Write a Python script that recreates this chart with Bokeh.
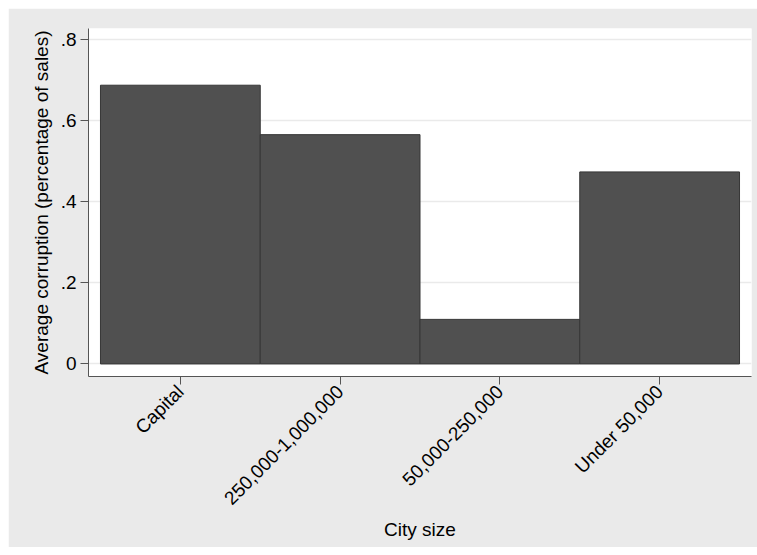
import math
from bokeh.plotting import figure
from bokeh.models import FactorRange, Range1d, FixedTicker, ColumnDataSource
from bokeh.embed import file_html
from bokeh.resources import INLINE

categories = ["Capital", "250,000-1,000,000", "50,000-250,000", "Under 50,000"]
corruption = [0.688, 0.566, 0.110, 0.474]
y_ticks = [0, 0.2, 0.4, 0.6, 0.8]
y_tick_labels = ["0", ".2", ".4", ".6", ".8"]

FONT = "Liberation Sans"
FS = "19px"

p = figure(width=749, height=539, output_backend="svg", toolbar_location=None,
           x_range=FactorRange(factors=categories, range_padding=0.075,
                               range_padding_units="absolute"),
           y_range=Range1d(-0.031, 0.828),
           min_border_left=80, min_border_right=6, min_border_top=20,
           min_border_bottom=171, margin=(8, 0, 8, 8),
           background_fill_color="white", border_fill_color="#EAEAEA")
p.outline_line_color = None

src = ColumnDataSource(dict(cat=categories, val=corruption))
p.vbar(x="cat", top="val", bottom=0, width=1.0, source=src,
       fill_color="#505050", line_color="#363636", line_width=1)

p.xgrid.visible = False
p.ygrid.grid_line_color = "#EAEAEA"
p.ygrid.grid_line_width = 1.5
p.ygrid.level = "underlay"

p.yaxis.ticker = FixedTicker(ticks=y_ticks)
p.yaxis.major_label_overrides = {t: l for t, l in zip(y_ticks, y_tick_labels)}
p.yaxis.axis_label = "Average corruption (percentage of sales)"
p.xaxis.axis_label = "City size"
p.xaxis.major_label_orientation = math.pi / 4

for ax in (p.xaxis[0], p.yaxis[0]):
    ax.axis_line_color = "#555555"
    ax.axis_line_width = 1
    ax.major_tick_line_color = "#555555"
    ax.major_tick_out = 8
    ax.major_tick_in = 0
    ax.minor_tick_line_color = None
    ax.major_label_text_font = FONT
    ax.major_label_text_font_size = FS
    ax.major_label_text_color = "black"
    ax.major_label_standoff = 4
    ax.axis_label_text_font = FONT
    ax.axis_label_text_font_size = FS
    ax.axis_label_text_font_style = "normal"
    ax.axis_label_text_color = "black"
    ax.axis_label_standoff = 6

p.xaxis.axis_label_standoff = 0

open("out.html", "w").write(file_html(p, INLINE))
